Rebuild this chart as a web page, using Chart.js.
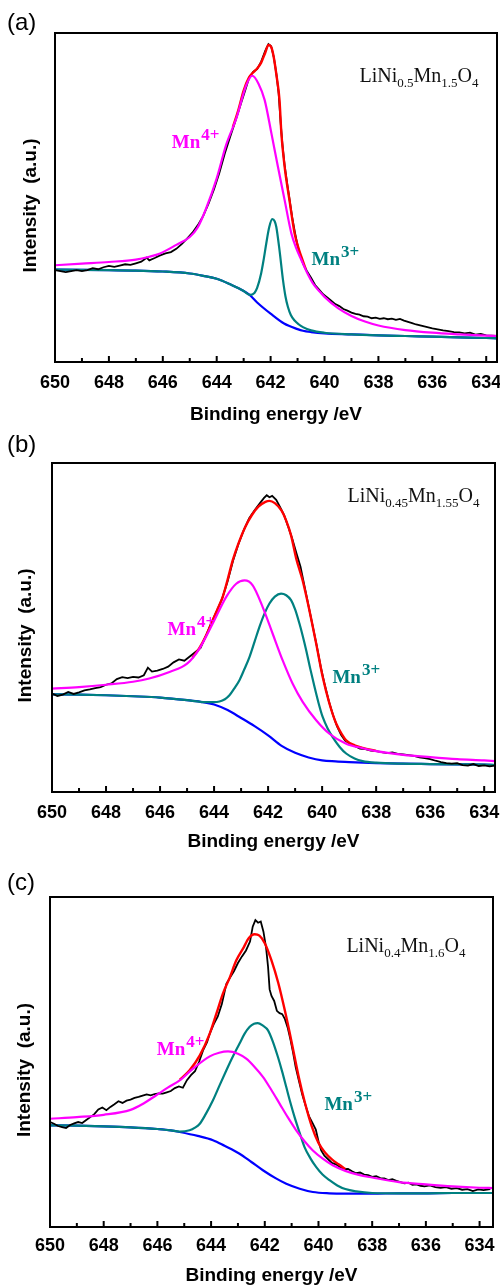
<!DOCTYPE html>
<html>
<head>
<meta charset="utf-8">
<script src="https://cdn.jsdelivr.net/npm/chart.js@4.4.1/dist/chart.umd.min.js"></script>
<style>
  body { margin: 0; background: #fff; width: 500px; height: 1287px; position: relative; overflow: hidden; }
  .panel { position: absolute; left: 0; width: 500px; }
</style>
</head>
<body>
<div class="panel" style="top:0;height:430px"><canvas id="chartA"></canvas></div>
<div class="panel" style="top:430px;height:430px"><canvas id="chartB"></canvas></div>
<div class="panel" style="top:860px;height:427px"><canvas id="chartC"></canvas></div>
<script>
// binding energy (eV), intensity as % of plot height (a.u.)
const minorTicks = [649, 647, 645, 643, 641, 639, 637, 635];

// ---- (a) LiNi0.5Mn1.5O4
const aBackground = [[650,28.1],[649,28.0],[648,27.9],[647,27.8],[646,27.5],[645,26.9],[644.5,26.2],[644,25.3],[643.5,23.6],[643,21.6],[642.78,20.4],[642.5,18.1],[642,14.7],[641.5,11.7],[641,10.0],[640.8,9.5],[640.5,9.1],[640,8.7],[639,8.4],[638,8.1],[637,7.9],[636,7.7],[635,7.5],[634,7.3],[633.6,7.2]];
const aMn3 = [[650,28.1],[649,28.0],[648,27.9],[647,27.8],[646,27.5],[645,26.9],[644.5,26.2],[644,25.3],[643.5,23.6],[643,21.6],[642.78,20.4],[642.6,21.0],[642.5,22.5],[642.35,27.0],[642.25,31.5],[642.16,36.1],[642.05,41.0],[641.94,43.4],[641.85,42.8],[641.79,41.1],[641.67,34.0],[641.54,24.9],[641.45,20.0],[641.36,16.8],[641.25,14.3],[641.11,12.6],[640.95,11.4],[640.8,10.6],[640.5,9.6],[640,8.9],[639,8.4],[638,8.1],[637,7.9],[636,7.7],[635,7.5],[634,7.3],[633.6,7.2]];
const aMn4 = [[650,29.4],[649,29.9],[648,30.4],[647,31.1],[646.5,32.0],[646.1,33.0],[645.5,35.6],[645,38.0],[644.7,41.0],[644.4,46.5],[644,55.8],[643.65,66.0],[643.27,74.1],[642.9,84.2],[642.68,87.0],[642.45,84.6],[642.22,79.6],[641.97,69.5],[641.73,59.4],[641.48,49.2],[641.23,39.1],[641.05,34.6],[640.86,31.0],[640.65,27.2],[640.43,23.9],[640.2,21.6],[640,19.8],[639.5,16.4],[639,14.0],[638.5,12.3],[638,11.1],[637,9.7],[636,8.9],[635,8.4],[634,8.0],[633.6,7.9]];
const aEnvelope = [[643.4,71.4],[643.2,76.5],[643,82.5],[642.8,86.5],[642.65,88.0],[642.5,89.2],[642.35,91.0],[642.2,94.0],[642.08,96.4],[641.97,95.6],[641.88,92.5],[641.78,87.0],[641.67,79.6],[641.6,69.5],[641.48,59.4],[641.3,49.2],[641.11,39.1],[640.98,35.0],[640.86,32.0],[640.7,28.3]];
const aRaw = [[650,27.9],[649.8,27.6],[649.6,27.3],[649.4,27.6],[649.2,27.9],[649,27.6],[648.8,27.9],[648.6,28.5],[648.4,28.2],[648.2,28.8],[648,29.2],[647.8,28.9],[647.6,29.3],[647.4,29.7],[647.2,29.5],[647,30.0],[646.8,30.5],[646.6,31.7],[646.5,30.9],[646.3,31.6],[646.1,32.4],[645.9,33.0],[645.7,33.4],[645.5,34.4],[645.3,35.8],[645.1,37.5],[644.9,39.3],[644.7,41.6],[644.5,44.4],[644.3,48.2],[644.1,52.5],[643.9,57.5],[643.7,63.4],[643.5,68.5],[643.3,73.4],[643.1,78.6],[642.95,82.4],[642.8,86.3],[642.65,88.2],[642.5,89.0],[642.35,91.3],[642.2,94.6],[642.08,96.6],[641.98,96.0],[641.88,92.6],[641.78,87.2],[641.7,81.5],[641.63,73.0],[641.56,66.0],[641.48,59.8],[641.39,54.5],[641.3,49.6],[641.2,44.0],[641.1,39.5],[641,35.4],[640.9,32.2],[640.78,29.6],[640.65,27.6],[640.5,25.6],[640.35,23.4],[640.2,22.0],[640.05,20.6],[639.9,19.6],[639.75,18.6],[639.6,17.6],[639.45,17.0],[639.3,16.1],[639.15,15.6],[639,15.0],[638.85,14.6],[638.7,14.4],[638.55,13.9],[638.4,13.8],[638.25,13.3],[638.1,13.5],[637.95,13.1],[637.8,13.3],[637.65,13.0],[637.5,13.2],[637.35,12.8],[637.2,13.1],[637.05,12.6],[636.9,12.2],[636.75,11.8],[636.6,11.4],[636.45,11.1],[636.3,10.8],[636.15,10.5],[636,10.2],[635.8,9.9],[635.6,9.6],[635.4,9.4],[635.2,9.1],[635,9.0],[634.8,8.7],[634.6,8.9],[634.4,8.3],[634.2,8.5],[634,8.1],[633.8,8.0],[633.6,7.9]];

// ---- (b) LiNi0.45Mn1.55O4
const bBackground = [[650,29.7],[649,29.6],[648,29.4],[647,29.1],[646,28.7],[645,27.9],[644.5,27.4],[644,26.6],[643.5,24.9],[643,22.5],[642.5,20.0],[642,17.2],[641.5,14.0],[641,11.9],[640.5,10.5],[640,9.6],[639.5,9.3],[639,9.1],[638,8.8],[637,8.6],[636,8.5],[635,8.4],[634,8.3],[633.6,8.2]];
const bMn3 = [[650,29.7],[649,29.6],[648,29.4],[647,29.1],[646,28.7],[645,27.9],[644.5,27.4],[644,27.3],[643.8,27.5],[643.6,28.2],[643.43,29.4],[643.25,31.5],[643.06,34.0],[642.88,37.3],[642.69,41.0],[642.5,45.7],[642.32,50.2],[642.13,54.3],[641.95,57.3],[641.75,59.4],[641.52,60.3],[641.33,59.8],[641.15,58.3],[641,55.5],[640.84,51.2],[640.72,47.5],[640.59,43.1],[640.44,37.5],[640.28,31.9],[640.13,27.0],[639.98,22.8],[639.8,19.4],[639.61,16.7],[639.35,13.7],[639.11,11.7],[638.8,10.2],[638.5,9.4],[638,8.9],[637,8.6],[636,8.5],[635,8.4],[634,8.3],[633.6,8.2]];
const bMn4 = [[650,31.4],[649,31.9],[648,32.6],[647,33.5],[646.4,34.5],[645.65,36.5],[645,39.0],[644.54,43.6],[644.05,51.2],[643.55,59.3],[643.18,63.3],[642.87,64.3],[642.57,62.8],[642.2,56.2],[641.83,48.1],[641.46,40.0],[641.09,32.9],[640.72,27.4],[640.22,21.8],[639.73,17.7],[639.11,14.7],[638.5,13.3],[638,12.4],[637,11.3],[636,10.6],[635,10.0],[634,9.6],[633.6,9.4]];
const bEnvelope = [[644.8,40.8],[644.54,43.8],[644.3,47.5],[644.05,52.2],[643.85,56.0],[643.68,59.3],[643.5,64.5],[643.31,70.4],[643.1,75.5],[642.85,80.5],[642.6,84.2],[642.35,86.8],[642.1,88.2],[641.95,88.5],[641.75,87.8],[641.5,85.5],[641.33,82.5],[641.15,78.0],[640.96,71.0],[640.72,64.3],[640.47,55.2],[640.22,45.1],[639.98,35.0],[639.73,26.9],[639.48,20.8],[639.25,17.3],[639.11,15.7],[638.8,14.2],[638.5,13.4],[638,12.5]];
const bRaw = [[650,29.9],[649.8,29.2],[649.6,29.6],[649.4,30.4],[649.2,29.8],[649,30.3],[648.8,30.9],[648.6,31.2],[648.4,31.6],[648.2,31.9],[648,32.6],[647.8,33.0],[647.6,34.3],[647.4,34.9],[647.2,34.6],[647,35.0],[646.8,34.8],[646.6,35.5],[646.45,37.8],[646.3,36.6],[646.1,36.9],[645.9,37.4],[645.7,38.1],[645.5,39.4],[645.3,40.3],[645.1,39.9],[644.9,41.2],[644.7,42.5],[644.5,43.8],[644.3,47.5],[644.1,51.5],[643.9,55.0],[643.7,58.8],[643.5,64.0],[643.3,70.2],[643.1,75.3],[642.9,79.6],[642.7,83.2],[642.5,85.6],[642.3,87.8],[642.15,89.4],[642.05,90.2],[641.95,89.6],[641.85,90.0],[641.7,88.8],[641.55,86.5],[641.4,84.0],[641.25,80.5],[641.1,76.8],[640.95,72.6],[640.8,68.5],[640.65,62.5],[640.5,56.5],[640.35,50.5],[640.2,44.5],[640.05,38.0],[639.9,32.5],[639.75,27.6],[639.6,23.5],[639.45,20.0],[639.3,17.4],[639.15,15.6],[639,14.8],[638.8,14.0],[638.6,13.2],[638.4,13.0],[638.2,12.6],[638,12.4],[637.8,12.1],[637.6,11.8],[637.4,12.0],[637.2,11.6],[637,11.4],[636.8,11.2],[636.6,11.0],[636.4,10.5],[636.2,10.3],[636,10.0],[635.8,9.5],[635.6,9.1],[635.4,8.8],[635.2,8.6],[635,8.8],[634.8,8.2],[634.6,8.0],[634.4,8.5],[634.2,7.9],[634,8.1],[633.8,7.8],[633.6,8.0]];

// ---- (c) LiNi0.4Mn1.6O4
const cBackground = [[650,30.8],[649,30.7],[648,30.5],[647,30.2],[646,29.7],[645.5,29.3],[645.17,28.8],[644.5,27.6],[643.93,26.3],[643.5,24.6],[642.94,22.2],[642.5,19.7],[642.07,17.2],[641.6,14.8],[641.2,13.1],[640.7,11.6],[640.21,10.6],[639.6,10.2],[639,10.1],[638,10.1],[637,10.2],[636,10.2],[635,10.3],[634,10.3],[633.5,10.3]];
const cMn3 = [[650,30.8],[649,30.7],[648,30.5],[647,30.2],[646,29.7],[645.5,29.3],[645.17,28.9],[644.8,29.3],[644.6,30.1],[644.42,31.3],[644.2,34.2],[643.93,38.4],[643.68,43.0],[643.43,47.5],[643.18,51.8],[642.94,55.6],[642.75,58.6],[642.57,60.6],[642.4,61.6],[642.26,61.8],[642.07,61.0],[641.88,59.6],[641.7,56.2],[641.51,51.5],[641.35,47.0],[641.2,42.4],[641.05,37.8],[640.89,33.3],[640.7,28.5],[640.52,24.2],[640.3,20.8],[640.09,18.2],[639.85,15.9],[639.59,14.2],[639.3,12.6],[639,11.5],[638.6,10.8],[638,10.3],[637,10.2],[636,10.2],[635,10.3],[634,10.3],[633.5,10.3]];
const cMn4 = [[650,32.8],[649,33.3],[648,34.0],[647,35.5],[646.5,37.5],[646.03,40.0],[645.6,42.3],[645.17,44.4],[644.67,48.0],[644.05,51.7],[643.7,52.8],[643.37,53.2],[643,52.5],[642.69,51.0],[642.38,48.5],[642.07,45.5],[641.76,41.6],[641.45,37.4],[641.14,33.2],[640.83,29.3],[640.52,26.0],[640.21,23.2],[639.84,20.7],[639.47,18.7],[639,17.0],[638.5,15.8],[638,15.0],[637,13.6],[636,12.9],[635,12.3],[634,11.9],[633.5,11.8]];
const cEnvelope = [[645.17,44.6],[644.8,47.5],[644.42,52.0],[644.05,58.6],[643.8,64.7],[643.56,70.7],[643.31,75.5],[643.06,80.8],[642.8,84.5],[642.6,87.5],[642.38,88.7],[642.2,88.3],[642,86.0],[641.76,81.0],[641.5,74.0],[641.25,65.5],[641,56.0],[640.75,46.0],[640.5,37.5],[640.25,30.5],[640,25.5],[639.75,22.5],[639.5,20.5],[639.25,19.0],[639,17.6]];
const cRaw = [[650,31.8],[649.85,31.3],[649.7,30.6],[649.55,30.3],[649.4,30.0],[649.25,30.9],[649.1,31.4],[648.95,31.8],[648.8,31.5],[648.65,32.4],[648.5,33.3],[648.35,34.2],[648.2,35.6],[648.05,36.2],[647.9,35.4],[647.75,36.4],[647.6,37.2],[647.45,38.1],[647.3,37.6],[647.15,38.3],[647,38.6],[646.85,39.1],[646.7,39.4],[646.55,39.8],[646.4,40.2],[646.25,39.9],[646.1,40.3],[645.95,40.5],[645.8,40.4],[645.65,40.8],[645.5,41.2],[645.35,42.1],[645.2,42.6],[645.05,42.2],[644.9,44.5],[644.75,46.0],[644.6,47.2],[644.45,50.0],[644.3,53.5],[644.15,56.0],[644.05,58.6],[643.9,61.5],[643.75,63.8],[643.6,67.6],[643.43,73.7],[643.3,75.5],[643.15,77.5],[643,80.0],[642.85,82.0],[642.7,83.8],[642.55,86.5],[642.45,91.0],[642.35,93.0],[642.25,92.2],[642.15,92.6],[642.05,89.5],[641.95,84.5],[641.88,79.0],[641.82,72.0],[641.75,70.0],[641.65,68.5],[641.55,65.5],[641.45,64.8],[641.35,64.5],[641.25,63.0],[641.15,60.5],[641.05,57.0],[640.95,53.0],[640.85,48.5],[640.72,44.0],[640.6,40.0],[640.47,36.5],[640.35,33.5],[640.22,31.5],[640.1,29.5],[640,26.0],[639.9,23.2],[639.78,21.6],[639.65,20.6],[639.5,19.4],[639.35,19.0],[639.2,18.2],[639.05,17.5],[638.9,17.6],[638.75,16.9],[638.6,16.3],[638.45,16.5],[638.3,15.9],[638.15,15.7],[638,15.2],[637.85,15.4],[637.7,14.8],[637.55,14.7],[637.4,14.2],[637.25,14.5],[637.1,14.0],[636.95,13.6],[636.8,13.2],[636.65,13.4],[636.5,12.8],[636.35,12.9],[636.2,12.5],[636.05,12.3],[635.85,12.6],[635.65,12.1],[635.45,11.9],[635.25,12.1],[635.05,11.6],[634.85,11.8],[634.65,11.3],[634.45,11.5],[634.25,10.9],[634.05,11.4],[633.85,11.2],[633.6,11.5]];

const MAGENTA = '#ff00ff', RED = '#ff0000', TEAL = '#008080', BLUE = '#0000ff';

function pts(arr) { return arr.map(p => ({ x: p[0], y: p[1] })); }

const decor = {
  id: 'decor',
  afterDraw(chart, args, o) {
    const { ctx, chartArea: ca, scales: { x, y } } = chart;
    ctx.save();
    ctx.strokeStyle = '#000';
    ctx.lineWidth = 2;
    ctx.strokeRect(ca.left, ca.top, ca.right - ca.left, ca.bottom - ca.top);
    ctx.beginPath();
    x.ticks.forEach(t => {
      const px = x.getPixelForValue(t.value);
      ctx.moveTo(px, ca.bottom); ctx.lineTo(px, ca.bottom - 6);
    });
    minorTicks.forEach(v => {
      const px = x.getPixelForValue(v);
      ctx.moveTo(px, ca.bottom); ctx.lineTo(px, ca.bottom - 4);
    });
    ctx.stroke();

    ctx.fillStyle = '#000';
    ctx.textBaseline = 'alphabetic';
    ctx.font = '24px "Liberation Sans"';
    ctx.fillText(o.letter, 7, o.letterY);

    // y axis title (sits a little below the axis middle in the original)
    ctx.save();
    ctx.translate(o.yTitleX, (ca.top + ca.bottom) / 2 + 8);
    ctx.rotate(-Math.PI / 2);
    ctx.textAlign = 'center';
    ctx.textBaseline = 'middle';
    ctx.font = 'bold 19px "Liberation Sans"';
    ctx.fillText('Intensity  (a.u.)', 0, 0);
    ctx.restore();

    // compound name with subscripts
    let fx = x.getPixelForValue(o.formula.x);
    const fy = y.getPixelForValue(o.formula.y);
    ctx.fillStyle = '#111';
    o.formula.parts.forEach(([s, sub]) => {
      ctx.font = sub ? '13px "Liberation Serif"' : '20px "Liberation Serif"';
      ctx.fillText(s, fx, fy + (sub ? 5 : 0));
      fx += ctx.measureText(s).width;
    });

    // Mn4+ / Mn3+ labels
    o.ions.forEach(l => {
      let lx = x.getPixelForValue(l.x);
      const ly = y.getPixelForValue(l.y);
      ctx.fillStyle = l.color;
      ctx.font = 'bold 19px "Liberation Serif"';
      ctx.fillText('Mn', lx, ly);
      lx += ctx.measureText('Mn').width + 1;
      ctx.font = 'bold 17px "Liberation Serif"';
      ctx.fillText(l.sup, lx, ly - 8);
    });
    ctx.restore();
  }
};

function line(data, color, width, smooth) {
  return {
    data: pts(data), borderColor: color, borderWidth: width, pointRadius: 0, fill: false,
    tension: smooth ? 0.4 : 0, cubicInterpolationMode: smooth ? 'monotone' : 'default'
  };
}

function makePanel(id, s, p) {
  new Chart(document.getElementById(id), {
    type: 'line',
    data: {
      // index 0 is drawn on top
      datasets: [
        line(s.mn4, MAGENTA, 2.2, true),
        line(s.env, RED, 2.4, true),
        line(s.raw, '#000', 1.8, false),
        line(s.mn3, TEAL, 2.2, true),
        line(s.bg, BLUE, 2.2, true)
      ]
    },
    options: {
      responsive: true,
      maintainAspectRatio: false,
      animation: false,
      layout: { padding: { top: p.padTop, right: p.padRight, left: 0, bottom: 0 } },
      plugins: {
        legend: { display: false },
        tooltip: { enabled: false },
        decor: p.decor
      },
      scales: {
        x: {
          type: 'linear', reverse: true, min: p.xMin, max: 650,
          grid: { display: false, drawTicks: false },
          border: { display: false },
          ticks: {
            stepSize: 2, includeBounds: false, autoSkip: false, maxRotation: 0,
            padding: p.tickPad, color: '#000',
            font: { family: 'Liberation Sans', weight: 'bold', size: 18 },
            callback: v => String(v)
          },
          title: {
            display: true, text: 'Binding energy /eV', color: '#000',
            font: { family: 'Liberation Sans', weight: 'bold', size: 19 },
            padding: { top: 0, bottom: p.xTitlePad }
          },
          afterFit: sc => { sc.height = p.xHeight; sc.paddingLeft = 0; sc.paddingRight = 0; }
        },
        y: {
          min: 0, max: 100,
          grid: { display: false, drawTicks: false },
          border: { display: false },
          ticks: { display: false },
          afterFit: sc => { sc.width = p.yWidth; sc.paddingTop = 0; sc.paddingBottom = 0; }
        }
      }
    },
    plugins: [decor]
  });
}

makePanel('chartA',
  { raw: aRaw, env: aEnvelope, mn4: aMn4, mn3: aMn3, bg: aBackground },
  { padTop: 33, padRight: 3, yWidth: 55, xHeight: 68, tickPad: 10, xTitlePad: 3.6, xMin: 633.6,
    decor: { letter: '(a)', letterY: 30, yTitleX: 31,
      formula: { x: 638.7, y: 85.0, parts: [['LiNi', 0], ['0.5', 1], ['Mn', 0], ['1.5', 1], ['O', 0], ['4', 1]] },
      ions: [{ x: 645.67, y: 65.0, sup: '4+', color: MAGENTA }, { x: 640.48, y: 29.5, sup: '3+', color: TEAL }] } });

makePanel('chartB',
  { raw: bRaw, env: bEnvelope, mn4: bMn4, mn3: bMn3, bg: bBackground },
  { padTop: 33, padRight: 5, yWidth: 52, xHeight: 68, tickPad: 10, xTitlePad: 6.6, xMin: 633.6,
    decor: { letter: '(b)', letterY: 22, yTitleX: 26,
      formula: { x: 639.06, y: 88.1, parts: [['LiNi', 0], ['0.45', 1], ['Mn', 0], ['1.55', 1], ['O', 0], ['4', 1]] },
      ions: [{ x: 645.72, y: 47.6, sup: '4+', color: MAGENTA }, { x: 639.62, y: 33.2, sup: '3+', color: TEAL }] } });

makePanel('chartC',
  { raw: cRaw, env: cEnvelope, mn4: cMn4, mn3: cMn3, bg: cBackground },
  { padTop: 37, padRight: 7, yWidth: 50, xHeight: 60, tickPad: 8, xTitlePad: 0, xMin: 633.5,
    decor: { letter: '(c)', letterY: 30, yTitleX: 25,
      formula: { x: 638.96, y: 83.3, parts: [['LiNi', 0], ['0.4', 1], ['Mn', 0], ['1.6', 1], ['O', 0], ['4', 1]] },
      ions: [{ x: 646.02, y: 52.0, sup: '4+', color: MAGENTA }, { x: 639.78, y: 35.6, sup: '3+', color: TEAL }] } });
</script>
</body>
</html>
